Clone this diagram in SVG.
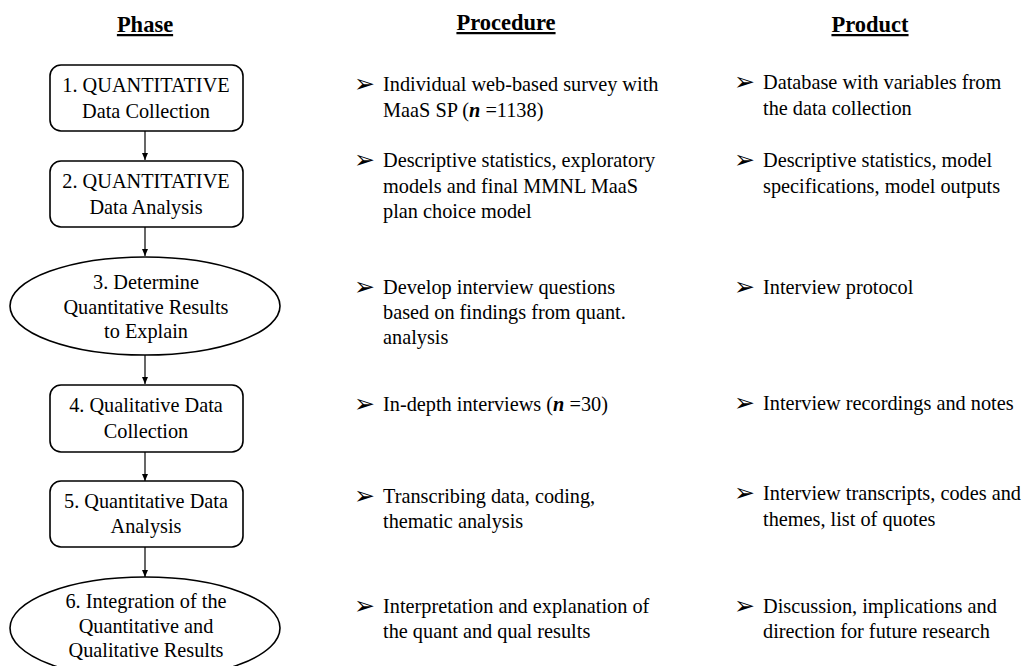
<svg xmlns="http://www.w3.org/2000/svg" width="1022" height="666" viewBox="0 0 1022 666">
  <style>
    text { font-family: "Liberation Serif", "Times New Roman", serif; fill: #000; }
    .hdr { font-size: 22.5px; font-weight: bold; text-decoration: underline; text-anchor: middle; }
    .lbl { font-size: 20.3px; text-anchor: middle; }
    .txt { font-size: 20.3px; }
    .bul { font-family: "DejaVu Sans", sans-serif; font-size: 25px; }
    .box { fill: #fff; stroke: #000; stroke-width: 1.6; }
    .con { stroke: #000; stroke-width: 1.2; fill: none; marker-end: url(#arr); }
  </style>
  <defs>
    <marker id="arr" markerWidth="8" markerHeight="8" refX="7" refY="4" orient="auto" markerUnits="userSpaceOnUse">
      <path d="M0,1 L7,4 L0,7 Z" fill="#000"/>
    </marker>
  </defs>
  <rect width="1022" height="666" fill="#fff"/>

  <!-- column headers -->
  <g id="headers">
    <text class="hdr" x="145" y="32">Phase</text>
    <text class="hdr" x="506" y="30">Procedure</text>
    <text class="hdr" x="870" y="32">Product</text>
  </g>

  <!-- flow connectors -->
  <g id="connectors">
    <line class="con" x1="145" y1="131" x2="145" y2="160"/>
    <line class="con" x1="145" y1="227" x2="145" y2="256"/>
    <line class="con" x1="145" y1="355" x2="145" y2="384"/>
    <line class="con" x1="145" y1="452" x2="145" y2="481"/>
    <line class="con" x1="145" y1="547" x2="145" y2="577"/>
  </g>

  <!-- phase nodes -->
  <g id="phase1">
    <rect class="box" x="50" y="65" width="193" height="66" rx="11"/>
    <text class="lbl" x="146" y="92">1. QUANTITATIVE</text>
    <text class="lbl" x="146" y="118">Data Collection</text>
  </g>
  <g id="phase2">
    <rect class="box" x="50" y="161" width="193" height="66" rx="11"/>
    <text class="lbl" x="146" y="188">2. QUANTITATIVE</text>
    <text class="lbl" x="146" y="214">Data Analysis</text>
  </g>
  <g id="phase3">
    <ellipse class="box" cx="145" cy="306" rx="135" ry="49"/>
    <text class="lbl" x="146" y="289">3. Determine</text>
    <text class="lbl" x="146" y="314">Quantitative Results</text>
    <text class="lbl" x="146" y="338">to Explain</text>
  </g>
  <g id="phase4">
    <rect class="box" x="50" y="385" width="193" height="67" rx="11"/>
    <text class="lbl" x="146" y="412">4. Qualitative Data</text>
    <text class="lbl" x="146" y="438">Collection</text>
  </g>
  <g id="phase5">
    <rect class="box" x="50" y="481" width="193" height="66" rx="11"/>
    <text class="lbl" x="146" y="508">5. Quantitative Data</text>
    <text class="lbl" x="146" y="533">Analysis</text>
  </g>
  <g id="phase6">
    <ellipse class="box" cx="145" cy="628" rx="135" ry="51"/>
    <text class="lbl" x="146" y="608">6. Integration of the</text>
    <text class="lbl" x="146" y="633">Quantitative and</text>
    <text class="lbl" x="146" y="657">Qualitative Results</text>
  </g>

  <!-- procedure column -->
  <g id="procedure">
    <text class="bul" x="354" y="92">➢</text>
    <text class="txt" x="383" y="91">Individual web-based survey with</text>
    <text class="txt" x="383" y="117">MaaS SP (<tspan font-style="italic" font-weight="bold">n</tspan> =1138)</text>

    <text class="bul" x="354" y="168">➢</text>
    <text class="txt" x="383" y="167">Descriptive statistics, exploratory</text>
    <text class="txt" x="383" y="193">models and final MMNL MaaS</text>
    <text class="txt" x="383" y="218">plan choice model</text>

    <text class="bul" x="354" y="295">➢</text>
    <text class="txt" x="383" y="294">Develop interview questions</text>
    <text class="txt" x="383" y="319">based on findings from quant.</text>
    <text class="txt" x="383" y="344">analysis</text>

    <text class="bul" x="354" y="412">➢</text>
    <text class="txt" x="383" y="411">In-depth interviews (<tspan font-style="italic" font-weight="bold">n</tspan> =30)</text>

    <text class="bul" x="354" y="504">➢</text>
    <text class="txt" x="383" y="503">Transcribing data, coding,</text>
    <text class="txt" x="383" y="528">thematic analysis</text>

    <text class="bul" x="354" y="614">➢</text>
    <text class="txt" x="383" y="613">Interpretation and explanation of</text>
    <text class="txt" x="383" y="638">the quant and qual results</text>
  </g>

  <!-- product column -->
  <g id="product">
    <text class="bul" x="734" y="90">➢</text>
    <text class="txt" x="763" y="89">Database with variables from</text>
    <text class="txt" x="763" y="115">the data collection</text>

    <text class="bul" x="734" y="168">➢</text>
    <text class="txt" x="763" y="167">Descriptive statistics, model</text>
    <text class="txt" x="763" y="193">specifications, model outputs</text>

    <text class="bul" x="734" y="295">➢</text>
    <text class="txt" x="763" y="294">Interview protocol</text>

    <text class="bul" x="734" y="411">➢</text>
    <text class="txt" x="763" y="410">Interview recordings and notes</text>

    <text class="bul" x="734" y="501">➢</text>
    <text class="txt" x="763" y="500">Interview transcripts, codes and</text>
    <text class="txt" x="763" y="526">themes, list of quotes</text>

    <text class="bul" x="734" y="614">➢</text>
    <text class="txt" x="763" y="613">Discussion, implications and</text>
    <text class="txt" x="763" y="638">direction for future research</text>
  </g>
</svg>
